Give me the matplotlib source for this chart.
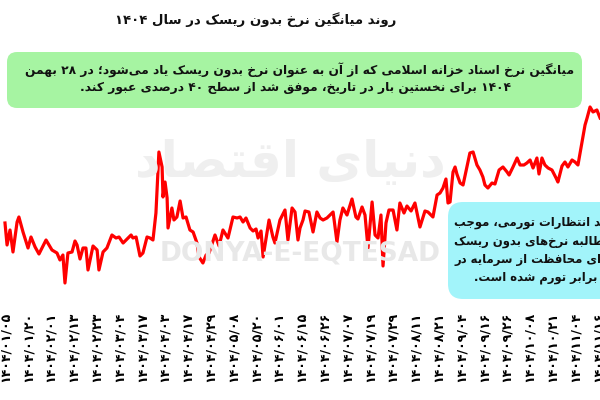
import matplotlib
matplotlib.use("Agg")
import matplotlib.pyplot as plt
from matplotlib.patches import FancyBboxPatch

# ---------------- data ----------------
date_labels = ["۱۴۰۴/۰۱/۰۵", "۱۴۰۴/۰۱/۲۰", "۱۴۰۴/۰۲/۰۱", "۱۴۰۴/۰۲/۱۳", "۱۴۰۴/۰۲/۲۳",
               "۱۴۰۴/۰۳/۰۴", "۱۴۰۴/۰۳/۱۷", "۱۴۰۴/۰۴/۰۳", "۱۴۰۴/۰۴/۱۷", "۱۴۰۴/۰۴/۲۹",
               "۱۴۰۴/۰۵/۰۸", "۱۴۰۴/۰۵/۲۰", "۱۴۰۴/۰۶/۰۱", "۱۴۰۴/۰۶/۱۵", "۱۴۰۴/۰۶/۲۶",
               "۱۴۰۴/۰۷/۰۷", "۱۴۰۴/۰۷/۱۹", "۱۴۰۴/۰۷/۲۹", "۱۴۰۴/۰۸/۱۱", "۱۴۰۴/۰۸/۲۱",
               "۱۴۰۴/۰۹/۰۴", "۱۴۰۴/۰۹/۱۶", "۱۴۰۴/۰۹/۲۶", "۱۴۰۴/۱۰/۰۸", "۱۴۰۴/۱۰/۲۱",
               "۱۴۰۴/۱۱/۰۴", "۱۴۰۴/۱۱/۱۶"]

# position along the date axis (in units of date-label steps)
x_pos = [0.00, 0.09, 0.22, 0.35, 0.53, 0.61, 0.79, 1.01, 1.14, 1.32, 1.49, 1.80, 2.06, 2.28, 2.41,
         2.54, 2.63, 2.76, 2.94, 3.07, 3.16, 3.29, 3.42, 3.55, 3.64, 3.86, 4.04, 4.12, 4.30, 4.47,
         4.69, 4.87, 5.00, 5.18, 5.53, 5.61, 5.75, 5.92, 6.05, 6.23, 6.36, 6.49, 6.62, 6.75, 6.89,
         6.93, 7.02, 7.11, 7.15, 7.32, 7.41, 7.54, 7.68, 7.81, 7.94, 8.11, 8.25, 8.42, 8.51, 8.68,
         8.82, 8.95, 9.21, 9.39, 9.56, 9.78, 10.00, 10.18, 10.31, 10.44, 10.57, 10.75, 10.88, 11.01,
         11.10, 11.23, 11.32, 11.49, 11.58, 11.75, 11.84, 12.06, 12.28, 12.41, 12.59, 12.72, 12.85,
         12.94, 13.07, 13.16, 13.33, 13.51, 13.68, 13.82, 13.95, 14.12, 14.39, 14.56, 14.69, 14.82,
         15.00, 15.22, 15.39, 15.48, 15.66, 15.79, 15.92, 16.10, 16.23, 16.36, 16.49, 16.58, 16.71,
         16.84, 17.02, 17.19, 17.32, 17.50, 17.63, 17.81, 17.98, 18.20, 18.42, 18.55, 18.77, 18.95,
         19.08, 19.21, 19.34, 19.43, 19.52, 19.65, 19.74, 19.82, 19.96, 20.09, 20.26, 20.39, 20.53,
         20.70, 20.83, 20.96, 21.05, 21.18, 21.36, 21.49, 21.67, 21.84, 22.02, 22.11, 22.28, 22.46,
         22.59, 22.76, 22.89, 23.03, 23.16, 23.33, 23.42, 23.55, 23.68, 23.82, 23.99, 24.17, 24.25,
         24.43, 24.56, 24.69, 24.87, 25.00, 25.13, 25.31, 25.44, 25.53, 25.66, 25.79, 25.96, 26.10]

# average risk-free (treasury) rate, percent (estimated)
rate = [33.85, 32.75, 33.50, 32.40, 33.90, 34.15, 33.40, 32.60, 33.15, 32.65, 32.30, 33.00, 32.50,
        32.35, 32.00, 32.25, 30.85, 32.35, 32.40, 32.95, 32.75, 32.05, 32.60, 32.60, 31.50, 32.70,
        32.50, 31.50, 32.40, 32.60, 33.25, 33.10, 33.15, 32.85, 33.25, 33.10, 33.15, 32.20, 32.35,
        33.15, 33.10, 33.00, 34.35, 37.40, 36.65, 35.15, 35.90, 35.10, 33.60, 34.60, 34.00, 34.15,
        34.95, 34.10, 34.15, 33.50, 33.40, 32.85, 32.15, 31.85, 32.25, 32.35, 33.25, 32.70, 33.50,
        33.10, 34.15, 34.10, 34.15, 33.90, 34.10, 33.60, 33.45, 33.55, 33.10, 33.45, 32.15, 33.35,
        34.00, 33.15, 32.85, 34.00, 34.50, 33.00, 34.60, 34.40, 33.00, 33.60, 34.00, 34.45, 34.40,
        33.40, 34.40, 34.10, 34.00, 34.10, 34.40, 32.90, 34.00, 34.60, 34.25, 35.05, 34.15, 34.05,
        34.65, 34.25, 32.60, 34.90, 33.25, 33.10, 34.25, 31.70, 33.85, 34.50, 34.50, 33.50, 34.85,
        34.35, 34.70, 34.45, 34.85, 33.65, 34.45, 34.40, 34.15, 35.25, 35.35, 35.60, 36.05, 34.85,
        34.90, 36.40, 36.65, 36.30, 35.85, 35.75, 36.65, 37.35, 37.40, 36.75, 36.50, 36.15, 35.75,
        35.60, 35.85, 35.80, 36.50, 36.65, 36.40, 36.25, 36.65, 37.10, 36.75, 36.75, 36.85, 37.00,
        36.60, 37.10, 36.30, 37.10, 36.75, 36.60, 36.50, 36.10, 35.90, 36.70, 36.90, 36.65, 37.00,
        36.90, 36.75, 37.90, 38.75, 39.10, 39.65, 39.40, 39.50, 39.10]

title_text = "روند میانگین نرخ بدون ریسک در سال ۱۴۰۴"
green_lines = ["میانگین نرخ اسناد خزانه اسلامی که از آن به عنوان نرخ بدون ریسک یاد می\u200cشود؛ در ۲۸ بهمن",
               "۱۴۰۴ برای نخستین بار در تاریخ، موفق شد از سطح ۴۰ درصدی عبور کند."]
cyan_lines = ["تشدید انتظارات تورمی، موجب",
              "مطالبه نرخ\u200cهای بدون ریسک",
              "برای محافظت از سرمایه در",
              "برابر تورم شده است."]

# ---------------- minimal Persian shaping ----------------
DUAL = {
    'ب': '\uFE8F\uFE90\uFE91\uFE92', 'پ': '\uFB56\uFB57\uFB58\uFB59',
    'ت': '\uFE95\uFE96\uFE97\uFE98', 'ث': '\uFE99\uFE9A\uFE9B\uFE9C',
    'ج': '\uFE9D\uFE9E\uFE9F\uFEA0', 'چ': '\uFB7A\uFB7B\uFB7C\uFB7D',
    'ح': '\uFEA1\uFEA2\uFEA3\uFEA4', 'خ': '\uFEA5\uFEA6\uFEA7\uFEA8',
    'س': '\uFEB1\uFEB2\uFEB3\uFEB4', 'ش': '\uFEB5\uFEB6\uFEB7\uFEB8',
    'ص': '\uFEB9\uFEBA\uFEBB\uFEBC', 'ض': '\uFEBD\uFEBE\uFEBF\uFEC0',
    'ط': '\uFEC1\uFEC2\uFEC3\uFEC4', 'ظ': '\uFEC5\uFEC6\uFEC7\uFEC8',
    'ع': '\uFEC9\uFECA\uFECB\uFECC', 'غ': '\uFECD\uFECE\uFECF\uFED0',
    'ف': '\uFED1\uFED2\uFED3\uFED4', 'ق': '\uFED5\uFED6\uFED7\uFED8',
    'ک': '\uFB8E\uFB8F\uFB90\uFB91', 'گ': '\uFB92\uFB93\uFB94\uFB95',
    'ل': '\uFEDD\uFEDE\uFEDF\uFEE0', 'م': '\uFEE1\uFEE2\uFEE3\uFEE4',
    'ن': '\uFEE5\uFEE6\uFEE7\uFEE8', 'ه': '\uFEE9\uFEEA\uFEEB\uFEEC',
    'ی': '\uFBFC\uFBFD\uFBFE\uFBFF', 'ئ': '\uFE89\uFE8A\uFE8B\uFE8C',
}
RIGHT = {
    'ا': '\uFE8D\uFE8E', 'آ': '\uFE81\uFE82', 'د': '\uFEA9\uFEAA', 'ذ': '\uFEAB\uFEAC',
    'ر': '\uFEAD\uFEAE', 'ز': '\uFEAF\uFEB0', 'ژ': '\uFB8A\uFB8B', 'و': '\uFEED\uFEEE',
}
DIGITS = set("۰۱۲۳۴۵۶۷۸۹0123456789")


def fa(s):
    out = []
    n = len(s)
    i = 0
    prev_dual = False
    while i < n:
        c = s[i]
        if c == 'ل' and i + 1 < n and s[i + 1] in ('ا', 'آ'):
            lig = ('\uFEFB', '\uFEFC') if s[i + 1] == 'ا' else ('\uFEF5', '\uFEF6')
            out.append(lig[1] if prev_dual else lig[0])
            prev_dual = False
            i += 2
            continue
        nxt = s[i + 1] if i + 1 < n else ''
        joins_next = nxt in DUAL or nxt in RIGHT
        if c in DUAL:
            f = DUAL[c]
            if prev_dual and joins_next:
                g = f[3]
            elif prev_dual:
                g = f[1]
            elif joins_next:
                g = f[2]
            else:
                g = f[0]
            out.append(g)
            prev_dual = True
        elif c in RIGHT:
            f = RIGHT[c]
            out.append(f[1] if prev_dual else f[0])
            prev_dual = False
        else:
            if c != '\u200c':
                out.append(c)
            prev_dual = False
        i += 1
    tokens = []
    for ch in out:
        if ch in DIGITS and tokens and tokens[-1][0] in DIGITS:
            tokens[-1] += ch
        else:
            tokens.append(ch)
    return ''.join(reversed(tokens))


# ---------------- figure ----------------
plt.rcParams['font.family'] = ['DejaVu Sans']
W, H = 600, 400
fig = plt.figure(figsize=(6, 4), dpi=100)
fig.patch.set_facecolor('white')


def fx(px):
    return px / W


def fy(py):
    return 1 - py / H


ax = fig.add_axes([0, fy(305), 1, (305 - 100) / H])
ax.set_xlim(-5 / 22.8, 595 / 22.8)
ax.set_ylim(29.75, 40.0)
for sp in ax.spines.values():
    sp.set_visible(False)
ax.set_yticks([])
ax.set_xticks(range(len(date_labels)))
ax.set_xticklabels(date_labels, rotation=90, fontsize=9, fontweight='bold')
ax.tick_params(axis='x', length=0, pad=5)
ax.set_facecolor('none')

# watermark
fig.text(fx(300), fy(253), "DONYA-E-EQTESAD", fontsize=19, fontweight='bold',
         color='#e8e8e8', ha='center', va='center', zorder=0)
fig.text(fx(290), fy(163), fa("دنیای اقتصاد"), fontsize=36, fontweight='bold',
         color='#efefef', ha='center', va='center', zorder=0)

ax.plot(x_pos, rate, color='#ff0000', linewidth=2.3, solid_joinstyle='round', zorder=3)

# title
fig.text(fx(256), fy(20), fa(title_text), fontsize=9.5, fontweight='bold',
         color='#111111', ha='center', va='center')

# green annotation box
green = FancyBboxPatch((0.07, (H - 108) / 100), 5.75, 0.56,
                       boxstyle="round,pad=0,rounding_size=0.1",
                       transform=fig.dpi_scale_trans, facecolor='#a6f4a2',
                       edgecolor='none', zorder=4)
fig.add_artist(green)
fig.text(fx(300), fy(70), fa(green_lines[0]), fontsize=8.8, fontweight='bold',
         color='#111111', ha='center', va='center', zorder=5)
fig.text(fx(295), fy(88), fa(green_lines[1]), fontsize=8.8, fontweight='bold',
         color='#111111', ha='center', va='center', zorder=5)

# cyan annotation box (extends past the right edge of the picture)
cyan = FancyBboxPatch((4.48, (H - 299) / 100), 2.2, 0.97,
                      boxstyle="round,pad=0,rounding_size=0.15",
                      transform=fig.dpi_scale_trans, facecolor='#a2f4fa',
                      edgecolor='none', zorder=4)
fig.add_artist(cyan)
cy = [222, 241, 260, 278]
for line, yy in zip(cyan_lines[:3], cy[:3]):
    fig.text(fx(454), fy(yy), fa(line), fontsize=8.4, fontweight='bold',
             color='#111111', ha='left', va='center', zorder=5)
fig.text(fx(536), fy(cy[3]), fa(cyan_lines[3]), fontsize=8.4, fontweight='bold',
         color='#111111', ha='center', va='center', zorder=5)

fig.savefig('out.png', dpi=100, facecolor='white')
